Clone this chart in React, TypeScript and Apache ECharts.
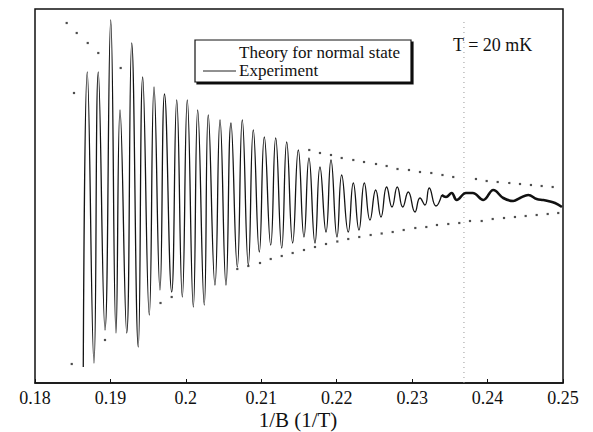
import React, { useEffect, useRef } from "react";
import * as echarts from "echarts";

// x ticks (1/B in 1/T)
const xTicks = [0.18, 0.19, 0.2, 0.21, 0.22, 0.23, 0.24, 0.25];

// Experiment: extrema (y in arbitrary units)
const expX = [0.18640,0.18693,0.18782,0.18839,0.18928,0.19004,0.19074,0.19127,0.19216,0.19282,0.19369,0.19428,0.19515,0.19578,0.19657,0.19717,0.19812,0.19879,0.19953,0.20019,0.20099,0.20157,0.20244,0.20297,0.20386,0.20453,0.20532,0.20598,0.20682,0.20748,0.20828,0.20894,0.20974,0.21040,0.21125,0.21191,0.21271,0.21337,0.21416,0.21491,0.21566,0.21632,0.21712,0.21778,0.21858,0.21924,0.22004,0.22066,0.22153,0.22220,0.22295,0.22366,0.22441,0.22517,0.22587,0.22662,0.22733,0.22803,0.22875,0.22949,0.23038,0.23104,0.23170,0.23227,0.23316,0.23392];
const expY = [16,311,20,311,53,363,50,273,50,340,36,306,68,296,93,289,91,283,86,283,76,273,78,268,98,263,98,260,116,263,118,253,131,246,138,245,135,241,140,233,146,225,140,216,151,223,146,208,151,200,153,200,163,193,166,196,176,196,176,191,171,185,178,195,177,188];

// Experiment tail (noisier, drawn bolder)
const tailX = [0.23392,0.23449,0.23524,0.23591,0.23714,0.23803,0.23943,0.24076,0.24208,0.24341,0.24430,0.24540,0.24651,0.24739,0.24801,0.24894,0.24986];
const tailY = [188,186,190,183,190,190,183,193,185,182,185,188,184,183,182,180,176];

// Theory for normal state: visible dots (mostly at its extrema)
const theoryX = [0.18420,0.18553,0.18699,0.18839,0.19136,0.21636,0.21778,0.21924,0.22066,0.22220,0.22362,0.22521,0.22662,0.22806,0.22958,0.23104,0.23254,0.23402,0.23545,0.23846,0.23988,0.24134,0.24288,0.24430,0.24575,0.24717,0.24863,
  0.18487,0.18517,0.18928,0.19664,0.19812,0.20682,0.20828,0.20983,0.21125,0.21271,0.21416,0.21566,0.21712,0.21858,0.22008,0.22153,0.22299,0.22450,0.22596,0.22742,0.22888,0.23042,0.23188,0.23329,0.23479,0.23625,0.23767,0.23922,0.24068,0.24218,0.24363,0.24505,0.24651,0.24797,0.24937];
const theoryY = [360,350,340,330,315,233,230,228,225,223,221,219,217,214,213,211,210,208,206,204,202,201,200,199,198,197,196,
  19,290,43,80,86,114,117,120,124,127,130,133,136,139,141.5,144,146,148,149.5,151,153,155,156,158,159,160,162,162,164,165,166,167,168,169,170];

// Dotted vertical crease in the scanned figure
const foldLineX = 0.23687;
const yRange = [0, 374];

const SERIF = "Liberation Serif";

export default function App() {
  const ref = useRef<HTMLDivElement>(null);
  useEffect(() => {
    if (!ref.current) return;
    const chart = echarts.init(ref.current, undefined, { renderer: "svg" });
    const zip = (xs: number[], ys: number[]) => xs.map((x, i) => [x, ys[i]]);
    chart.setOption({
      animation: false,
      backgroundColor: "#ffffff",
      grid: {
        left: 35, right: 30, top: 9, bottom: 49,
        outerBoundsMode: "none",
        containLabel: false,
        show: true, borderColor: "#111", borderWidth: 1.5, backgroundColor: "transparent",
      },
      xAxis: {
        type: "value",
        min: xTicks[0],
        max: xTicks[xTicks.length - 1],
        interval: 0.01,
        axisLine: { show: true, lineStyle: { color: "#111", width: 1.5 } },
        axisTick: { show: true, inside: true, length: 4, lineStyle: { color: "#111" } },
        axisLabel: {
          fontFamily: SERIF, fontSize: 18, lineHeight: 18, color: "#111", margin: 6,
          formatter: (v: number) => String(+v.toFixed(2)),
        },
        splitLine: { show: false },
      },
      yAxis: {
        type: "value",
        min: yRange[0],
        max: yRange[1],
        axisLine: { show: false },
        axisTick: { show: false },
        axisLabel: { show: false },
        splitLine: { show: false },
      },
      series: [
        {
          name: "fold",
          type: "line",
          data: [[foldLineX, yRange[0]], [foldLineX, yRange[1] - 10]],
          showSymbol: false,
          silent: true,
          lineStyle: { color: "#999", type: [1, 4], width: 1 },
        },
        {
          name: "Theory for normal state",
          type: "scatter",
          data: zip(theoryX, theoryY),
          symbol: "rect",
          symbolSize: 2.2,
          itemStyle: { color: "#222" },
          silent: true,
        },
        {
          name: "Experiment",
          type: "line",
          data: zip(expX, expY),
          showSymbol: false,
          smooth: 0.5,
          lineStyle: { color: "#141414", width: 1.3 },
        },
        {
          name: "ExperimentTail",
          type: "line",
          data: zip(tailX, tailY),
          showSymbol: false,
          smooth: 0.4,
          lineStyle: { color: "#111", width: 2.6 },
        },
      ],
      graphic: [
        {
          type: "text", x: 298, y: 420, z: 101,
          style: { text: "1/B (1/T)", fontFamily: SERIF, fontSize: 21, lineHeight: 21, fill: "#111", align: "center", verticalAlign: "middle" },
        },
        {
          type: "rect",
          shape: { x: 195, y: 40, width: 216, height: 42 },
          style: { fill: "#fff", stroke: "#111", lineWidth: 1.2, shadowColor: "#111", shadowOffsetX: 2, shadowOffsetY: 2, shadowBlur: 0 },
          z: 100,
        },
        {
          type: "text", x: 239, y: 52, z: 101,
          style: { text: "Theory for normal state", fontFamily: SERIF, fontSize: 17, fill: "#111", verticalAlign: "middle" },
        },
        {
          type: "line", z: 101,
          shape: { x1: 203, y1: 71, x2: 236, y2: 71 },
          style: { stroke: "#222", lineWidth: 1 },
        },
        {
          type: "text", x: 239, y: 70, z: 101,
          style: { text: "Experiment", fontFamily: SERIF, fontSize: 17, fill: "#111", verticalAlign: "middle" },
        },
        {
          type: "text", x: 453, y: 45, z: 101,
          style: { text: "T = 20 mK", fontFamily: SERIF, fontSize: 18, fill: "#111", verticalAlign: "middle" },
        },
      ],
    });
    return () => chart.dispose();
  }, []);
  return <div ref={ref} style={{ position: "fixed", left: 0, top: 0, width: 593, height: 432 }} />;
}
